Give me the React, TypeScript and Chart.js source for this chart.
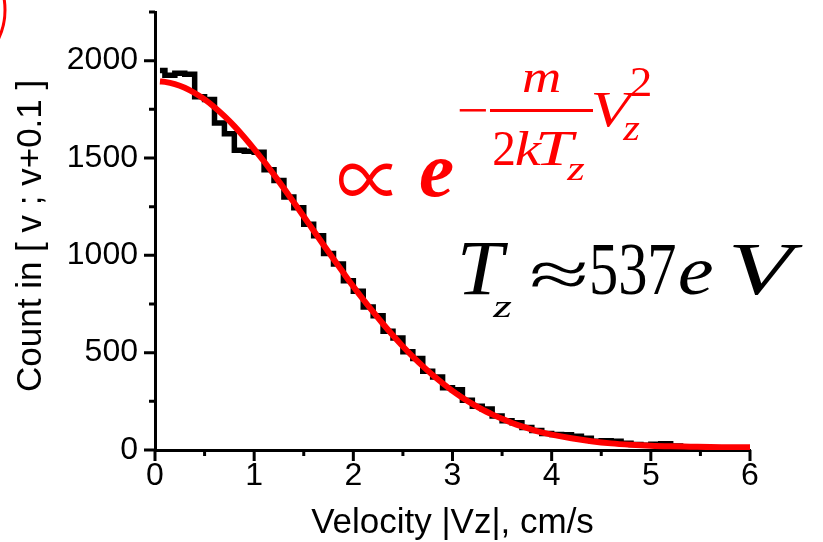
import React, { useEffect, useRef } from "react";
import { Chart, registerables } from "chart.js";
Chart.register(...registerables);

// Histogram: bin centres (bins of 0.1 cm/s) and counts
const binCenters = [
  0.05, 0.15, 0.25, 0.35, 0.45, 0.55, 0.65, 0.75, 0.85, 0.95,
  1.05, 1.15, 1.25, 1.35, 1.45, 1.55, 1.65, 1.75, 1.85, 1.95,
  2.05, 2.15, 2.25, 2.35, 2.45, 2.55, 2.65, 2.75, 2.85, 2.95,
  3.05, 3.15, 3.25, 3.35, 3.45, 3.55, 3.65, 3.75, 3.85, 3.95,
  4.05, 4.15, 4.25, 4.35, 4.45, 4.55, 4.65, 4.75, 4.85, 4.95,
  5.05, 5.15, 5.25, 5.35, 5.45, 5.55, 5.65, 5.75, 5.85, 5.95,
];
const binCounts = [
  1950, 1925, 1935, 1930, 1815, 1800, 1680, 1625, 1540, 1535,
  1530, 1440, 1385, 1300, 1245, 1160, 1100, 1010, 955, 870,
  815, 735, 690, 610, 575, 505, 470, 405, 375, 320,
  310, 255, 225, 210, 175, 150, 140, 115, 100, 85,
  80, 78, 70, 60, 45, 48, 45, 35, 28, 25,
  30, 32, 20, 15, 12, 10, 8, 6, 5, 4,
];

// Gaussian fit curve
const fitV = [
  0.05, 0.1, 0.2, 0.3, 0.4, 0.5, 0.6, 0.7, 0.8, 0.9,
  1.0, 1.1, 1.2, 1.3, 1.4, 1.5, 1.6, 1.7, 1.8, 1.9,
  2.0, 2.1, 2.2, 2.3, 2.4, 2.5, 2.6, 2.7, 2.8, 2.9,
  3.0, 3.1, 3.2, 3.3, 3.4, 3.5, 3.6, 3.7, 3.8, 3.9,
  4.0, 4.2, 4.4, 4.6, 4.8, 5.0, 5.2, 5.4, 5.6, 5.8, 6.0,
];
const fitCounts = [
  1893, 1891, 1880, 1861, 1834, 1801, 1761, 1715, 1664, 1607,
  1546, 1482, 1414, 1344, 1272, 1200, 1126, 1053, 981, 910,
  840, 773, 709, 647, 588, 532, 480, 431, 385, 343,
  304, 269, 237, 208, 183, 160, 139, 121, 105, 91,
  79, 60, 45, 34, 27, 22, 19, 17, 15, 14, 14,
];

const xTitle = "Velocity |Vz|, cm/s";
const yTitle = "Count in [ v ; v+0.1 ] ";
const X_MIN = 0, X_MAX = 6, X_STEP = 0.5;
const Y_MIN = 0, Y_MAX = 2250, Y_STEP = 250;

const SANS = '"Liberation Sans", Arial, sans-serif';
const SERIF = '"Liberation Serif", "DejaVu Serif", serif';

function fitText(ctx: CanvasRenderingContext2D, text: string, font: string, color: string,
  x0: number, y0: number, x1: number, y1: number) {
  ctx.save();
  ctx.font = font;
  ctx.fillStyle = color;
  ctx.textAlign = "left";
  ctx.textBaseline = "alphabetic";
  const m = ctx.measureText(text);
  const l = -m.actualBoundingBoxLeft, r = m.actualBoundingBoxRight;
  const t = -m.actualBoundingBoxAscent, b = m.actualBoundingBoxDescent;
  const sx = (x1 - x0) / Math.max(1, r - l);
  const sy = (y1 - y0) / Math.max(1, b - t);
  ctx.translate(x0, y0);
  ctx.scale(sx, sy);
  ctx.fillText(text, -l, -t);
  ctx.restore();
}

const tickMarks = {
  id: "tickMarks",
  afterDraw(chart: any) {
    const { ctx, scales } = chart;
    const x = scales.x, y = scales.y;
    ctx.save();
    ctx.strokeStyle = "#000";
    ctx.lineWidth = 3;
    ctx.beginPath();
    x.ticks.forEach((t: any) => {
      const px = x.getPixelForValue(t.value);
      const major = Math.abs(t.value - Math.round(t.value)) < 1e-6;
      ctx.moveTo(px, x.top);
      ctx.lineTo(px, x.top + (major ? 11 : 6));
    });
    y.ticks.forEach((t: any) => {
      const py = y.getPixelForValue(t.value);
      const major = t.value % 500 === 0;
      ctx.moveTo(y.right, py);
      ctx.lineTo(y.right - (major ? 11 : 6), py);
    });
    ctx.stroke();
    ctx.restore();
  },
};

const annotations = {
  id: "annotations",
  afterDraw(chart: any) {
    const ctx: CanvasRenderingContext2D = chart.ctx;
    const red = "#ff0000";
    // red circle fragment at top-left corner
    ctx.save();
    ctx.strokeStyle = red;
    ctx.lineWidth = 3;
    ctx.beginPath();
    ctx.arc(-60, 10, 65, -Math.PI / 2, Math.PI / 2);
    ctx.stroke();
    ctx.restore();

    // ∝ e^{-(m / 2kT_z) V_z^2}
    fitText(ctx, "∝", `56px "Noto Sans CJK JP", ${SERIF}`, red, 338, 164, 393, 197);
    fitText(ctx, "e", `italic bold 84px ${SERIF}`, red, 420, 159, 453, 197);
    fitText(ctx, "−", `50px ${SERIF}`, red, 459, 108.5, 486, 111.5);
    ctx.save();
    ctx.fillStyle = red;
    ctx.fillRect(490, 109, 103, 3);
    ctx.restore();
    fitText(ctx, "m", `italic 50px ${SERIF}`, red, 523, 70, 560, 92);
    fitText(ctx, "2", `52px ${SERIF}`, red, 494, 131, 514, 165);
    fitText(ctx, "k", `italic 52px ${SERIF}`, red, 516, 130, 542, 165);
    fitText(ctx, "T", `italic 52px ${SERIF}`, red, 539, 131, 577, 165);
    fitText(ctx, "z", `italic 38px ${SERIF}`, red, 566, 164, 585, 180);
    fitText(ctx, "V", `italic 52px ${SERIF}`, red, 593, 92, 637, 127);
    fitText(ctx, "2", `38px ${SERIF}`, red, 631, 68, 650, 96);
    fitText(ctx, "z", `italic 38px ${SERIF}`, red, 622, 123, 640, 140);

    // T_z ≈ 537 eV
    const blk = "#000";
    fitText(ctx, "T", `italic 78px ${SERIF}`, blk, 462, 243, 508, 295);
    fitText(ctx, "z", `italic 36px ${SERIF}`, blk, 492, 302, 512, 317);
    fitText(ctx, "≈", `78px ${SERIF}`, blk, 532, 262, 585, 287);
    fitText(ctx, "537", `76px ${SERIF}`, blk, 592, 245, 675, 295);
    fitText(ctx, "e", `italic 76px ${SERIF}`, blk, 680, 261, 713, 295);
    fitText(ctx, "V", `italic 76px ${SERIF}`, blk, 732, 245, 803, 295);
  },
};

export default function App() {
  const ref = useRef<HTMLCanvasElement>(null);
  useEffect(() => {
    document.body.style.margin = "0";
    const canvas = ref.current!;
    const chart = new Chart(canvas, {
      type: "line",
      data: {
        datasets: [
          {
            label: "fit",
            data: fitV.map((v, i) => ({ x: v, y: fitCounts[i] })),
            borderColor: "#ff0000",
            borderWidth: 6,
            pointRadius: 0,
            cubicInterpolationMode: "monotone",
            fill: false,
          },
          {
            label: "histogram",
            data: binCenters.map((v, i) => ({ x: v, y: binCounts[i] })),
            borderColor: "#000000",
            borderWidth: 5.5,
            pointRadius: 0,
            stepped: "middle",
            fill: false,
          },
        ],
      },
      options: {
        responsive: false,
        animation: false,
        devicePixelRatio: 1,
        layout: { padding: { left: 0, right: 73, top: 12, bottom: 0 } },
        plugins: { legend: { display: false }, tooltip: { enabled: false } },
        scales: {
          x: {
            type: "linear",
            min: X_MIN,
            max: X_MAX,
            grid: { display: false, drawTicks: false },
            border: { display: true, color: "#000", width: 3 },
            ticks: {
              stepSize: X_STEP,
              autoSkip: false,
              maxRotation: 0,
              padding: 7,
              color: "#000",
              font: { family: SANS, size: 32 },
              callback: (v: any) => (Math.abs(v - Math.round(v)) < 1e-6 ? String(Math.round(v)) : ""),
            },
            title: {
              display: true,
              text: xTitle,
              color: "#000",
              font: { family: SANS, size: 35, lineHeight: 1 },
              padding: { top: 0, bottom: 1 },
            },
            afterFit: (s: any) => {
              s.height = 92;
              s.paddingLeft = 0; s.paddingRight = 0; s.paddingTop = 0; s.paddingBottom = 0;
            },
          },
          y: {
            type: "linear",
            min: Y_MIN,
            max: Y_MAX,
            grid: { display: false, drawTicks: false },
            border: { display: true, color: "#000", width: 3 },
            ticks: {
              stepSize: Y_STEP,
              autoSkip: false,
              padding: 17,
              color: "#000",
              font: { family: SANS, size: 32 },
              callback: (v: any) => (v % 500 === 0 ? String(v) : ""),
            },
            title: {
              display: true,
              text: yTitle,
              color: "#000",
              font: { family: SANS, size: 35, lineHeight: 1 },
              padding: { top: 14, bottom: 0 },
            },
            afterFit: (s: any) => {
              s.width = 155;
              s.paddingLeft = 0; s.paddingRight = 0; s.paddingTop = 0; s.paddingBottom = 0;
            },
          },
        },
      },
      plugins: [tickMarks, annotations],
    } as any);
    return () => chart.destroy();
  }, []);
  return (
    <div style={{ width: 823, height: 542 }}>
      <canvas ref={ref} width={823} height={542} style={{ display: "block" }} />
    </div>
  );
}
